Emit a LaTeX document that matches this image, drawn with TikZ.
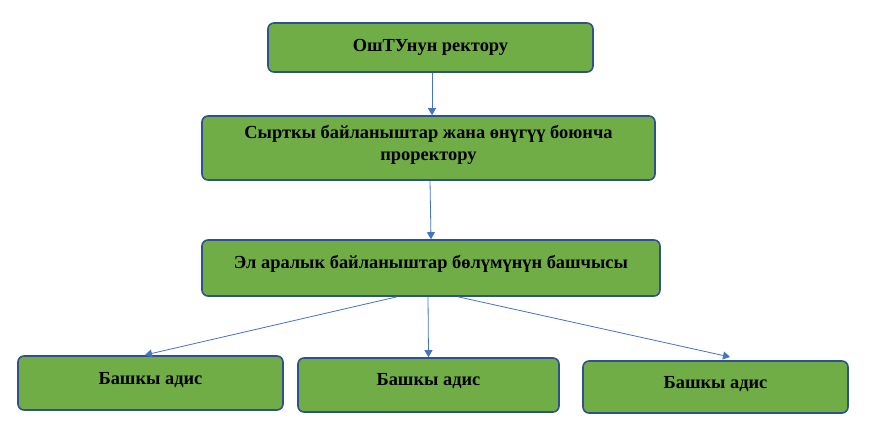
\documentclass[tikz,border=0pt]{standalone}
\usepackage{fontspec}
\setmainfont{Liberation Serif}
\usetikzlibrary{arrows.meta,positioning}

\definecolor{boxgreen}{HTML}{70AD47}
\definecolor{boxedge}{HTML}{2F528F}
\definecolor{arrowblue}{HTML}{4472C4}

\begin{document}
\begin{tikzpicture}[
    x = 1pt, y = -1pt, % pixel-like units
    > = {Triangle[width=8pt,length=7pt]}, % arrow head style
    semithick % line style
    ]

    \tikzset{
    unit/.style={
    draw = boxedge,
    line width = 1.6pt,
    fill = boxgreen,
    rounded corners = 6pt,
    align = center,
    inner sep = 0pt,
    font = \bfseries\fontsize{18.4}{22}\selectfont
    },
    link/.style={arrowblue, line width = 0.8pt}
    }
    \useasboundingbox (0,0) rectangle (888,430);

    \node[unit, minimum width=325pt, minimum height=49pt, text depth=4pt] (rector) at (430.5,47.5) {ОшТУнун ректору};
    \node[unit, minimum width=453pt, minimum height=64pt, text depth=10pt] (prorector) at (428.5,148) {Сырткы байланыштар жана өнүгүү боюнча\\ проректору};
    \node[unit, minimum width=458pt, minimum height=56pt, text depth=12pt] (head) at (431,268) {Эл аралык байланыштар бөлүмүнүн башчысы};
    \node[unit, minimum width=265pt, minimum height=54pt, text depth=10pt] (dept1) at (150.5,383) {Башкы адис};
    \node[unit, minimum width=261pt, minimum height=54pt, text depth=12pt] (dept2) at (428.5,385) {Башкы адис};
    \node[unit, minimum width=265pt, minimum height=52pt, text depth=10pt] (dept3) at (715.5,387) {Башкы адис};

    \path[->, link] ([xshift=1.5pt]rector.south) edge ([xshift=1.5pt]rector.south |- prorector.north);
    \path[->, link] ([xshift=1.5pt]prorector.south) edge (head.north);
    \path[->, link] ([xshift=-34pt]head.south) edge (145,355);
    \path[->, link] ([xshift=-3pt]head.south) edge (dept2.north);
    \path[->, link] ([xshift=27pt]head.south) edge (730,357);
\end{tikzpicture}
\end{document}
